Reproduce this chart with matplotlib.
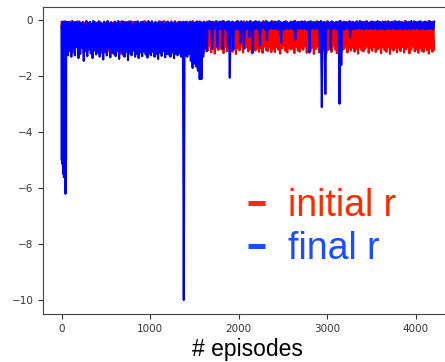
import numpy as np
import matplotlib
matplotlib.use('Agg')
import matplotlib.pyplot as plt

# reward per episode, one value every 10 episodes
step = 10

initial_r = [
    -0.05, -1.05, -0.10, -0.95, -0.03, -1.12, -0.08, -0.98, -0.12, -1.08, -0.04, -0.92, -0.09, -1.15, -0.06, -1.0, -0.11, -0.96, -0.03, -1.1,
    -0.07, -1.02, -0.13, -0.9, -0.05, -1.18, -0.09, -1.0, -0.02, -0.94, -0.1, -1.06, -0.06, -0.97, -0.12, -1.13, -0.04, -1.01, -0.08, -0.93,
    -0.1, -1.08, -0.03, -0.99, -0.07, -1.16, -0.11, -0.95, -0.05, -1.04, -0.09, -0.91, -0.02, -1.11, -0.13, -1.0, -0.06, -1.07, -0.1, -0.96,
    -0.04, -1.14, -0.08, -0.93, -0.12, -1.03, -0.06, -1.19, -0.02, -0.97, -0.1, -1.09, -0.05, -0.94, -0.09, -1.12, -0.03, -1.0, -0.11, -1.06,
    -0.06, -0.98, -0.1, -1.15, -0.04, -1.02, -0.08, -0.9, -0.13, -1.1, -0.05, -1.17, -0.07, -0.96, -0.02, -1.05, -0.11, -0.99, -0.06, -1.13,
    -0.09, -1.0, -0.03, -1.08, -0.12, -0.95, -0.05, -1.2, -0.08, -1.01, -0.1, -0.92, -0.04, -1.14, -0.07, -1.04, -0.02, -0.97, -0.11, -1.09,
    -0.05, -1.11, -0.09, -0.94, -0.03, -1.06, -0.12, -1.0, -0.06, -1.16, -0.08, -0.98, -0.1, -1.03, -0.04, -0.91, -0.07, -1.12, -0.13, -1.0,
    -0.08, -0.96, -0.04, -1.1, -0.11, -1.02, -0.06, -1.18, -0.02, -0.95, -0.09, -1.07, -0.05, -1.0, -0.12, -1.13, -0.03, -0.93, -0.1, -1.05,
    -0.06, -1.15, -0.1, -0.99, -0.04, -1.09, -0.08, -0.92, -0.12, -1.14, -0.05, -1.01, -0.07, -1.19, -0.03, -0.97, -0.11, -1.06, -0.06, -1.0,
    -0.09, -1.04, -0.02, -1.17, -0.1, -0.95, -0.06, -1.1, -0.04, -1.02, -0.13, -0.94, -0.07, -1.12, -0.05, -1.0, -0.09, -1.2, -0.03, -0.98,
    -0.11, -1.07, -0.05, -0.93, -0.08, -1.15, -0.03, -1.01, -0.1, -0.96, -0.06, -1.11, -0.12, -1.03, -0.04, -1.18, -0.07, -0.95, -0.09, -1.08,
    -0.04, -0.99, -0.1, -1.12, -0.06, -1.0, -0.13, -1.16, -0.02, -0.94, -0.08, -1.06, -0.05, -1.1, -0.11, -0.97, -0.07, -1.14, -0.03, -1.02,
    -0.08, -1.13, -0.05, -0.96, -0.1, -1.05, -0.03, -1.19, -0.07, -1.0, -0.12, -0.92, -0.06, -1.09, -0.04, -1.15, -0.09, -0.98, -0.11, -1.04,
    -0.06, -1.01, -0.09, -1.17, -0.02, -0.95, -0.1, -1.08, -0.05, -1.12, -0.07, -0.99, -0.13, -1.05, -0.04, -0.93, -0.08, -1.16, -0.06, -1.0,
    -0.1, -1.1, -0.04, -0.97, -0.07, -1.2, -0.11, -1.03, -0.03, -0.94, -0.09, -1.14, -0.05, -1.0, -0.12, -1.07, -0.06, -0.96, -0.08, -1.18,
    -0.03, -1.06, -0.1, -0.99, -0.06, -1.13, -0.08, -0.92, -0.12, -1.04, -0.05, -1.17, -0.09, -1.01, -0.02, -0.95, -0.11, -1.1, -0.07, -1.02,
    -0.07, -0.94, -0.05, -1.15, -0.1, -1.0, -0.04, -1.08, -0.13, -0.97, -0.06, -1.12, -0.08, -1.03, -0.03, -1.19, -0.1, -0.96, -0.05, -1.07,
    -0.09, -1.11, -0.06, -1.02, -0.03, -0.93, -0.11, -1.16, -0.07, -1.0, -0.04, -1.09, -0.12, -0.95, -0.05, -1.13, -0.08, -1.04, -0.1, -0.98,
    -0.05, -1.17, -0.08, -0.96, -0.12, -1.06, -0.03, -1.12, -0.09, -0.94, -0.06, -1.2, -0.1, -1.01, -0.04, -1.08, -0.07, -0.99, -0.11, -1.14,
    -0.08, -1.0, -0.04, -1.1, -0.06, -0.95, -0.13, -1.15, -0.02, -1.03, -0.09, -0.97, -0.05, -1.18, -0.1, -1.05, -0.07, -0.93, -0.03, -1.11,
    -0.11, -1.04, -0.06, -1.16, -0.09, -0.98, -0.04, -1.09, -0.07, -1.13, -0.12, -0.96, -0.05, -1.07, -0.08, -1.19, -0.03, -1.0, -0.1, -1.12,
    -0.06, -1.05,
]

# first 60 episodes of final r, one value every 2 episodes (the deep dip at the start)
early_step = 2
final_r_early = [
    -0.2, -5.0, -0.1, -5.1, -0.05, -5.0, -0.1, -5.2, -0.05, -5.3,
    -0.1, -5.5, -0.04, -5.6, -0.1, -5.4, -0.05, -5.6, -0.1, -5.5,
    -0.05, -5.6, -6.2, -5.3, -0.08, -5.0, -0.1, -1.25, -0.05, -1.2,
]

# final r from episode 60 on, one value every 10 episodes
final_r = [
    -0.1, -1.25, -0.05, -1.1, -0.1, -1.3, -0.02, -1.0, -0.08, -1.25, -0.05, -0.95, -0.1, -1.35,
    -0.04, -1.2, -0.1, -0.98, -0.06, -1.45, -0.12, -1.1, -0.03, -1.28, -0.09, -1.02, -0.05, -1.18, -0.11, -1.35, -0.02, -1.08, -0.07, -1.22,
    -0.1, -1.15, -0.04, -1.3, -0.08, -1.05, -0.13, -1.4, -0.05, -1.12, -0.09, -1.25, -0.03, -1.0, -0.1, -1.32, -0.06, -1.15, -0.12, -1.2,
    -0.05, -1.28, -0.09, -1.1, -0.02, -1.38, -0.11, -1.05, -0.07, -1.22, -0.04, -1.3, -0.1, -1.12, -0.06, -1.42, -0.08, -1.18, -0.03, -1.25,
    -0.12, -1.08, -0.05, -1.3, -0.09, -1.2, -0.03, -1.35, -0.1, -1.15, -0.06, -1.28, -0.04, -1.1, -0.11, -1.22, -0.07, -1.33, -0.02, -1.18,
    -0.08, -1.25, -0.04, -1.12, -0.1, -1.3, -0.06, -1.2, -0.12, -1.38, -0.03, -1.15, -0.09, -1.27, -0.05, -1.1, -0.11, -1.32, -0.07, -1.2,
    -0.04, -1.22, -0.1, -1.3, -0.06, -1.15, -0.09, -1.35, -0.03, -1.2, -0.11, -1.25, -0.05, -1.18, -0.08, -1.3, -0.1, -0.05, -10.0, -0.06,
    -1.25, -0.05, -1.3, -0.1, -1.2, -0.04, -1.45, -0.08, -1.7, -0.06, -1.55, -0.1, -1.65, -0.03, -1.8, -0.07, -2.1, -0.05, -2.1, -0.09,
    -1.3, -0.04, -1.0, -0.1, -1.1, -0.06, -0.3, -0.02, -0.28, -0.08, -1.0, -0.05, -0.32, -0.1, -0.25, -0.03, -0.95, -0.07, -0.3, -0.04,
    -0.3, -0.06, -1.0, -0.02, -0.28, -0.09, -0.33, -0.05, -0.9, -0.03, -2.05, -0.08, -0.3, -0.04, -1.05, -0.1, -0.27, -0.06, -0.32, -0.02,
    -0.3, -0.08, -0.8, -0.03, -0.29, -0.06, -1.0, -0.1, -0.33, -0.04, -0.27, -0.07, -0.6, -0.02, -0.3, -0.09, -1.15, -0.05, -0.31, -0.03,
    -0.28, -0.07, -0.32, -0.04, -0.9, -0.1, -0.3, -0.05, -0.26, -0.08, -0.33, -0.02, -0.7, -0.06, -0.3, -0.09, -0.28, -0.03, -0.31, -0.07,
    -0.3, -0.04, -0.27, -0.08, -0.33, -0.02, -0.29, -0.06, -0.8, -0.1, -0.3, -0.05, -0.32, -0.03, -0.26, -0.07, -0.31, -0.09, -0.28, -0.04,
    -0.3, -0.06, -0.33, -0.02, -0.7, -0.08, -0.28, -0.05, -0.31, -0.1, -0.27, -0.03, -0.32, -0.07, -0.29, -0.04, -0.3, -0.09, -0.33, -0.05,
    -1.15, -0.03, -0.3, -0.08, -0.28, -0.05, -0.32, -0.1, -0.27, -0.04, -0.31, -0.06, -1.15, -0.02, -3.1, -0.07, -0.3, -0.05, -2.63, -0.09,
    -0.3, -0.04, -0.28, -0.08, -1.05, -0.03, -0.31, -0.06, -0.27, -0.1, -0.33, -0.05, -0.29, -0.07, -2.98, -0.02, -1.6, -0.08, -0.3, -0.04,
    -0.32, -0.06, -0.27, -0.09, -0.3, -0.03, -0.6, -0.07, -0.29, -0.05, -0.33, -0.1, -0.28, -0.04, -0.31, -0.08, -0.26, -0.02, -0.3, -0.06,
    -0.29, -0.05, -0.33, -0.08, -0.27, -0.03, -0.31, -0.1, -0.3, -0.06, -0.28, -0.04, -0.32, -0.07, -0.26, -0.09, -0.3, -0.02, -0.33, -0.05,
    -0.28, -0.08, -0.31, -0.04, -0.29, -0.06, -0.33, -0.1, -0.27, -0.03, -0.3, -0.07, -0.32, -0.05, -0.28, -0.09, -0.31, -0.02, -0.29, -0.06,
    -0.33, -0.04, -0.27, -0.08, -0.3, -0.05, -0.32, -0.1, -0.28, -0.03, -0.31, -0.07, -0.29, -0.06, -0.33, -0.02, -0.27, -0.09, -0.3, -0.04,
    -0.31, -0.07, -0.28, -0.05, -0.32, -0.03, -0.3, -0.1, -0.27, -0.06, -0.33, -0.04, -0.29, -0.08, -0.31, -0.02, -0.28, -0.05, -0.3, -0.06,
    -0.32, -0.04,
]

labels = ['initial r', 'final r']
colors = ['#ff0000', '#0000ff']
text_colors = ['#ff2a00', '#1a4dff']

episodes_init = np.arange(len(initial_r)) * step
episodes_final = np.concatenate([
    np.arange(len(final_r_early)) * early_step,
    len(final_r_early) * early_step + np.arange(len(final_r)) * step,
])
final_all = final_r_early + final_r

fig = plt.figure(figsize=(4.45, 3.62), dpi=100)
ax = fig.add_axes([0.0966, 0.1326, 0.921, 0.848])

ax.plot(episodes_init, initial_r, color=colors[0], lw=1.5, label=labels[0])
ax.plot(episodes_final, final_all, color=colors[1], lw=1.5, label=labels[1])

ax.tick_params(labelsize=7.5, colors='#333333', length=3.5)
for sp in ax.spines.values():
    sp.set_color('#444444')

ax.set_xlabel('# episodes', fontsize=16.5, family='Liberation Sans', labelpad=3)

leg = ax.legend(loc='upper left', bbox_to_anchor=(0.455, 0.472), frameon=False,
                prop={'family': 'Liberation Sans', 'size': 27},
                handlelength=0.45, handletextpad=0.6, labelspacing=0.2,
                borderpad=0)
for line, txt, c in zip(leg.get_lines(), leg.get_texts(), text_colors):
    line.set_linewidth(3.6)
    line.set_solid_capstyle('butt')
    line.set_color(c)
    txt.set_color(c)

fig.savefig('out.png', dpi=100)
